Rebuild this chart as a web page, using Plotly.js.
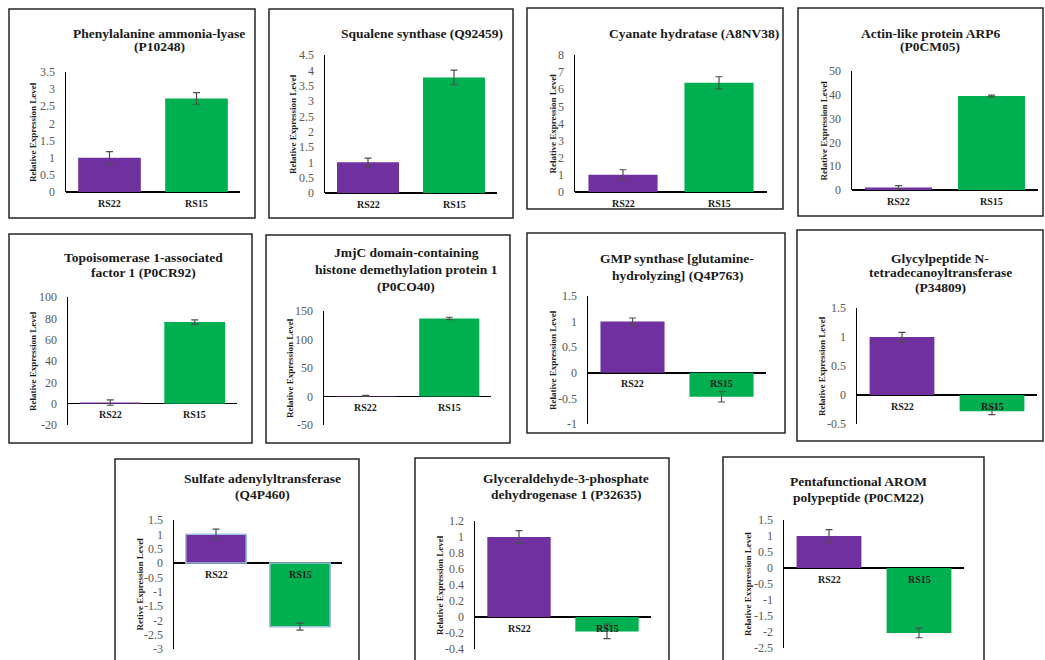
<!DOCTYPE html>
<html>
<head>
<meta charset="utf-8">
<script src="https://cdn.plot.ly/plotly-3.0.1.min.js"></script>
<style>html,body{margin:0;padding:0;background:#fff;}#chart{width:1045px;height:660px;}</style>
</head>
<body>
<div id="chart"></div>
<script>
// ---------- DATA ----------
const categories = ['RS22', 'RS15'];
const panelTitles = [
  ['Phenylalanine ammonia-lyase', '(P10248)'],
  ['Squalene synthase (Q92459)'],
  ['Cyanate hydratase (A8NV38)'],
  ['Actin-like protein ARP6', '(P0CM05)'],
  ['Topoisomerase 1-associated', 'factor 1 (P0CR92)'],
  ['JmjC domain-containing', 'histone demethylation protein 1', '(P0CO40)'],
  ['GMP synthase [glutamine-', 'hydrolyzing] (Q4P763)'],
  ['Glycylpeptide N-', 'tetradecanoyltransferase', '(P34809)'],
  ['Sulfate adenylyltransferase', '(Q4P460)'],
  ['Glyceraldehyde-3-phosphate', 'dehydrogenase 1 (P32635)'],
  ['Pentafunctional AROM', 'polypeptide (P0CM22)']
];
const yAxisTitles = [
  'Relative Expression Level', 'Relative Expression Level', 'Relative Expression Level',
  'Relative Expression Level', 'Relative Expression Level', 'Relative Expression Level',
  'Relative Expression Level', 'Relative Expression Level', 'Retive Expression Level',
  'Relative Expression Level', 'Relative Exxpression Level'
];
const rs22Values = [1.0, 1.0, 1.0, 1.0, 1.0, 1.0, 1.0, 1.0, 1.0, 1.0, 1.0];
const rs22Errors = [0.18, 0.14, 0.3, 0.8, 2.5, 1.0, 0.07, 0.08, 0.18, 0.08, 0.2];
const rs15Values = [2.73, 3.77, 6.38, 39.5, 76.5, 137, -0.47, -0.28, -2.22, -0.18, -2.03];
const rs15Errors = [0.17, 0.24, 0.35, 0.4, 2, 2, 0.1, 0.06, 0.12, 0.09, 0.15];
const yTicks = [
  [0, 0.5, 1, 1.5, 2, 2.5, 3, 3.5],
  [0, 0.5, 1, 1.5, 2, 2.5, 3, 3.5, 4, 4.5],
  [0, 1, 2, 3, 4, 5, 6, 7, 8],
  [0, 10, 20, 30, 40, 50],
  [-20, 0, 20, 40, 60, 80, 100],
  [-50, 0, 50, 100, 150],
  [-1, -0.5, 0, 0.5, 1, 1.5],
  [-0.5, 0, 0.5, 1, 1.5],
  [-3, -2.5, -2, -1.5, -1, -0.5, 0, 0.5, 1, 1.5],
  [-0.4, -0.2, 0, 0.2, 0.4, 0.6, 0.8, 1, 1.2],
  [-2.5, -2, -1.5, -1, -0.5, 0, 0.5, 1, 1.5]
];

// ---------- LAYOUT (pixel positions of frames / plot areas) ----------
const W = 1045, H = 660;
const frames = [
  {box: [9, 9, 255, 218],    ax: [66, 240, 72, 192],   tx: 159, ty: [33, 47],        yt: 33},
  {box: [269, 9, 513, 218],  ax: [325, 497, 55, 193],  tx: 422, ty: [33],            yt: 293},
  {box: [527, 8, 783, 209],  ax: [575, 767, 55, 192],  tx: 694, ty: [33],            yt: 552},
  {box: [798, 8, 1043, 216], ax: [852, 1038, 71, 190], tx: 930, ty: [33, 47],        yt: 823},
  {box: [9, 234, 252, 443],  ax: [68, 237, 297, 425],  tx: 143, ty: [257, 272],      yt: 33},
  {box: [266, 235, 510, 443],ax: [324, 491, 311, 425], tx: 406, ty: [253, 269, 286], yt: 290},
  {box: [527, 233, 785, 433],ax: [588, 766, 296, 424], tx: 677, ty: [258, 275],      yt: 553},
  {box: [797, 230, 1043, 441],ax: [857, 1037, 308, 424], tx: 940, ty: [258, 273, 288], yt: 822},
  {box: [115, 459, 359, 668],ax: [174, 342, 520, 649], tx: 262, ty: [479, 494],      yt: 139},
  {box: [415, 458, 669, 668],ax: [475, 651, 521, 649], tx: 566, ty: [479, 494],      yt: 440},
  {box: [723, 457, 984, 668],ax: [784, 964, 520, 648], tx: 858, ty: [481, 497],      yt: 748}
];
const fx = v => v / W;
const fy = v => 1 - v / H;

const PURPLE = '#7030a0', GREEN = '#00b050';
const SERIF = 'Liberation Serif, Times New Roman, serif';

const traces = [];
const layout = {
  width: W, height: H,
  margin: {l: 0, r: 0, t: 0, b: 0},
  paper_bgcolor: '#ffffff', plot_bgcolor: 'rgba(0,0,0,0)',
  showlegend: false,
  shapes: [], annotations: []
};

frames.forEach((f, i) => {
  const n = i === 0 ? '' : String(i + 1);
  const xr = 'x' + n, yr = 'y' + n;
  traces.push({
    type: 'bar', x: categories, y: [rs22Values[i], rs15Values[i]],
    xaxis: xr, yaxis: yr, width: 0.72,
    marker: {color: [PURPLE, GREEN],
             line: {color: i === 8 ? '#9dc3e6' : 'rgba(0,0,0,0)', width: i === 8 ? 1.5 : 0}},
    error_y: {type: 'data', array: [rs22Errors[i], rs15Errors[i]], visible: true,
              color: '#4d4d4d', thickness: 1.2, width: 3.5},
    hoverinfo: 'skip'
  });
  const ticks = yTicks[i];
  layout['xaxis' + n] = {
    domain: [fx(f.ax[0]), fx(f.ax[1])], anchor: yr, type: 'category',
    range: [-0.5, 1.5], showline: false, showgrid: false, zeroline: false,
    showticklabels: false, ticks: '', fixedrange: true
  };
  layout['yaxis' + n] = {
    domain: [fy(f.ax[3]), fy(f.ax[2])], anchor: xr,
    range: [ticks[0], ticks[ticks.length - 1]],
    tickmode: 'array', tickvals: ticks, ticktext: ticks.map(String),
    showline: true, linecolor: '#000', linewidth: 1.5,
    showgrid: false, zeroline: true, zerolinecolor: '#000', zerolinewidth: 1.5,
    ticks: '', ticklabelstandoff: 7,
    tickfont: {family: SERIF, size: 12, color: '#595959'}, fixedrange: true
  };
  // frame
  layout.shapes.push({type: 'rect', xref: 'paper', yref: 'paper',
    x0: fx(f.box[0]), x1: fx(f.box[2]), y0: fy(f.box[3]), y1: fy(f.box[1]),
    line: {color: '#262626', width: 1.5}, fillcolor: 'rgba(0,0,0,0)', layer: 'below'});
  // title lines
  panelTitles[i].forEach((line, k) => {
    layout.annotations.push({xref: 'paper', yref: 'paper', x: fx(f.tx), y: fy(f.ty[k]),
      xanchor: 'center', yanchor: 'middle', showarrow: false, text: '<b>' + line + '</b>',
      font: {family: SERIF, size: 13.5, color: '#1a1a1a'}});
  });
  // y-axis title
  layout.annotations.push({xref: 'paper', yref: 'paper', x: fx(f.yt),
    y: fy((f.ax[2] + f.ax[3]) / 2), xanchor: 'center', yanchor: 'middle',
    textangle: -90, showarrow: false, text: '<b>' + yAxisTitles[i] + '</b>',
    font: {family: SERIF, size: 9, color: '#1a1a1a'}});
  // category labels next to the zero line
  categories.forEach(c => {
    layout.annotations.push({xref: xr, yref: yr, x: c, y: 0, yshift: -11,
      xanchor: 'center', yanchor: 'middle', showarrow: false, text: '<b>' + c + '</b>',
      font: {family: SERIF, size: 10, color: '#1a1a1a'}});
  });
});

Plotly.newPlot('chart', traces, layout, {staticPlot: true, displayModeBar: false});
</script>
</body>
</html>
